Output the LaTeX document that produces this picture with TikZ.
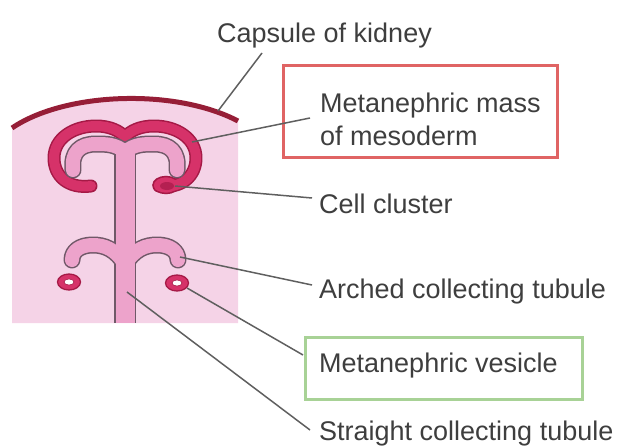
\documentclass[tikz,border=0pt]{standalone}
\usepackage{fontspec}
\setmainfont{Liberation Sans}
\definecolor{bgpink}{RGB}{245,211,231}
\definecolor{capsulered}{RGB}{150,30,55}
\definecolor{capdark}{RGB}{165,25,70}
\definecolor{capred}{RGB}{214,50,105}
\definecolor{armpink}{RGB}{237,163,203}
\definecolor{edgegray}{RGB}{112,88,104}
\definecolor{leadergray}{RGB}{95,95,95}
\definecolor{txtgray}{RGB}{62,62,62}
\definecolor{boxred}{RGB}{224,100,100}
\definecolor{boxgreen}{RGB}{168,210,150}
\begin{document}
\begin{tikzpicture}[x=1pt,y=-1pt,
  leader/.style={draw=leadergray, line width=1.5pt},
  lbl/.style={anchor=base west, inner sep=0pt, text=txtgray,
    font={\fontsize{27}{33}\selectfont}},
  framebox/.style={draw=#1, line width=3pt, rectangle, inner sep=0pt},
  tubeedge/.style={draw=edgegray, line width=17pt, line cap=round, line join=round},
  tubefill/.style={draw=armpink, line width=14pt, line cap=round, line join=round},
  capedge/.style={draw=capdark, line width=13pt, line cap=round, line join=round},
  capfill/.style={draw=capred, line width=10pt, line cap=round, line join=round}]
\useasboundingbox (0,0) rectangle (621,447);

% cortex tissue below the capsule
\fill[bgpink] (12,128) .. controls (65,92) and (175,88) .. (238,121)
  -- (238,323) -- (12,323) -- cycle;
% capsule of the kidney
\draw[capsulered, line width=5pt] (12,128) .. controls (65,92) and (175,88) .. (238,121);

% metanephric mesoderm cap (outline layer)
\draw[capedge] (91,186) .. controls (68,189) and (54,176) .. (54,158)
  .. controls (54,138) and (74,126) .. (96,126)
  .. controls (110,126) and (120,131) .. (125,137)
  .. controls (130,131) and (140,126) .. (154,126)
  .. controls (176,126) and (196,138) .. (196,158)
  .. controls (196,176) and (182,189) .. (159,186);
% cell cluster at the tip of the cap
\fill[capred, draw=capdark, line width=1.5pt] (166,185) ellipse [x radius=13, y radius=8.5];
% mesoderm cap (fill layer)
\draw[capfill] (91,186) .. controls (68,189) and (54,176) .. (54,158)
  .. controls (54,138) and (74,126) .. (96,126)
  .. controls (110,126) and (120,131) .. (125,137)
  .. controls (130,131) and (140,126) .. (154,126)
  .. controls (176,126) and (196,138) .. (196,158)
  .. controls (196,176) and (182,189) .. (159,186);
\fill[capdark!70!capred] (167,186) ellipse [x radius=7, y radius=4];

% collecting tubules: edges first, then the pink fill over them
\draw[tubeedge, line cap=butt, line width=22pt] (125,152) -- (125,323);
\draw[tubeedge] (125,152) .. controls (116,144) and (106,144) .. (96,144)
  .. controls (80,144) and (71,152) .. (73,170);
\draw[tubeedge] (125,152) .. controls (134,144) and (144,144) .. (154,144)
  .. controls (170,144) and (179,152) .. (177,170);
\draw[tubeedge] (125,265) .. controls (116,249) and (104,245) .. (93,245)
  .. controls (80,245) and (72,251) .. (72,260);
\draw[tubeedge] (125,265) .. controls (134,249) and (146,245) .. (157,245)
  .. controls (170,245) and (178,251) .. (178,260);
\draw[tubefill] (125,152) .. controls (116,144) and (106,144) .. (96,144)
  .. controls (80,144) and (71,152) .. (73,170);
\draw[tubefill] (125,152) .. controls (134,144) and (144,144) .. (154,144)
  .. controls (170,144) and (179,152) .. (177,170);
\draw[tubefill] (125,265) .. controls (116,249) and (104,245) .. (93,245)
  .. controls (80,245) and (72,251) .. (72,260);
\draw[tubefill] (125,265) .. controls (134,249) and (146,245) .. (157,245)
  .. controls (170,245) and (178,251) .. (178,260);
\draw[tubefill, line cap=butt, line width=19pt] (125,152) -- (125,323);

% metanephric vesicles
\foreach \vx/\vy in {69/282, 177/283} {
  \fill[capred, draw=capdark, line width=1.3pt] (\vx,\vy) ellipse [x radius=11.5, y radius=8];
  \fill[white, draw=capdark, line width=0.6pt] (\vx,\vy) ellipse [x radius=5, y radius=3];
}

% label frames
\node[framebox=boxred, minimum width=274pt, minimum height=92pt] (mbox) at (420,111) {};
\node[framebox=boxgreen, minimum width=277pt, minimum height=62pt] (vbox) at (443.5,368) {};

% labels
\node[lbl] (capT) at (217,42) {Capsule of kidney};
\node[lbl] (mesT1) at (320,112) {Metanephric mass};
\node[lbl] (mesT2) at (320,145) {of mesoderm};
\node[lbl] (cellT) at (319,213) {Cell cluster};
\node[lbl] (archT) at (319,298) {Arched collecting tubule};
\node[lbl] (vesT) at (319,372) {Metanephric vesicle};
\node[lbl] (strT) at (319,440) {Straight collecting tubule};

% leader end points
\coordinate (capP) at (218,111);   \coordinate (capE) at (262,53);
\coordinate (mesP) at (192,142);   \coordinate (mesE) at (310,118);
\coordinate (cellP) at (175,186);  \coordinate (cellE) at (312,198);
\coordinate (archP) at (180,257);  \coordinate (archE) at (312,285);
\coordinate (vesP) at (187,288);   \coordinate (vesE) at (303,355);
\coordinate (strP) at (127,292);   \coordinate (strE) at (310,430);

\draw[leader] (capP) -- (capE);
\draw[leader] (mesP) -- (mesE);
\draw[leader] (cellP) -- (cellE);
\draw[leader] (archP) -- (archE);
\draw[leader] (vesP) -- (vesE);
\draw[leader] (strP) -- (strE);
\end{tikzpicture}
\end{document}
